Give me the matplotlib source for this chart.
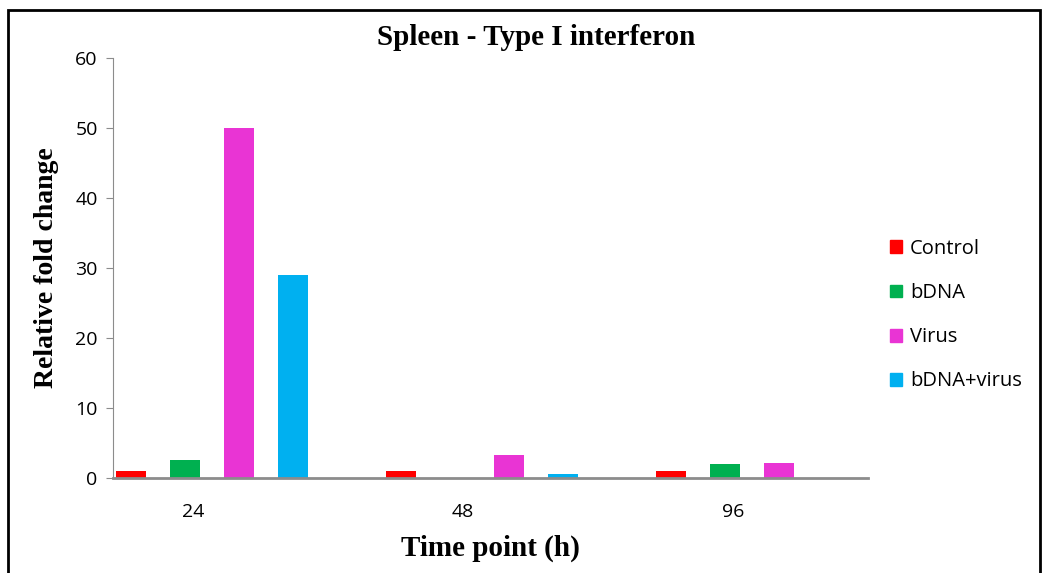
import matplotlib.pyplot as plt
import matplotlib.patches as mpatches
import numpy as np

time_points = ["24", "48", "96"]
series_names = ["Control", "bDNA", "Virus", "bDNA+virus"]
control = [1.0, 1.0, 1.0]
bdna = [2.6, 0.0, 2.0]
virus = [50.0, 3.3, 2.1]
bdna_virus = [29.0, 0.6, 0.0]
colors = ["#FF0000", "#00B050", "#E934D4", "#00B0F0"]

serif = ["Liberation Serif", "DejaVu Serif"]
sans = ["Open Sans", "DejaVu Sans"]

fig = plt.figure(figsize=(10.43, 5.73), dpi=100)
ax = fig.add_axes([0.1083, 0.1658, 0.7239, 0.733])

x = np.arange(len(time_points))
offsets = [-0.23, -0.03, 0.17, 0.37]
width = 0.111
for vals, off, col, name in zip([control, bdna, virus, bdna_virus], offsets, colors, series_names):
    ax.bar(x + off, vals, width, color=col, label=name)

ax.set_xlim(-0.296, 2.5)
ax.set_ylim(0, 60)
ax.set_yticks(range(0, 61, 10))
ax.set_xticks(x)
ax.set_xticklabels(time_points)
for lbl in ax.get_xticklabels() + ax.get_yticklabels():
    lbl.set_fontfamily(sans)
    lbl.set_fontsize(14)

ax.spines["top"].set_visible(False)
ax.spines["right"].set_visible(False)
ax.spines["left"].set_color("#8c8c8c")
ax.spines["bottom"].set_color("#8c8c8c")
ax.spines["bottom"].set_linewidth(2)
ax.tick_params(axis="y", length=5, color="#8c8c8c", pad=6)
ax.tick_params(axis="x", length=0, pad=18)

ax.set_ylabel("Relative fold change", fontfamily=serif, fontweight="bold", fontsize=20, labelpad=12)
ax.set_xlabel("Time point (h)", fontfamily=serif, fontweight="bold", fontsize=21, labelpad=10)
fig.text(0.514, 0.935, "Spleen - Type I interferon", ha="center", va="center",
         fontfamily=serif, fontweight="bold", fontsize=21)

handles = [mpatches.Patch(color=c, label=n) for c, n in zip(colors, series_names)]
leg = fig.legend(handles=handles, loc="center left", bbox_to_anchor=(0.836, 0.45),
                 frameon=False, prop={"family": sans, "size": 14.5},
                 handlelength=0.6, handleheight=0.6, handletextpad=0.4, labelspacing=1.2)

# outer frame
fig.patches.append(mpatches.Rectangle((0.008, -0.05), 0.989, 1.033, transform=fig.transFigure,
                                      fill=False, edgecolor="black", linewidth=2))

fig.savefig("out.png", dpi=100)
